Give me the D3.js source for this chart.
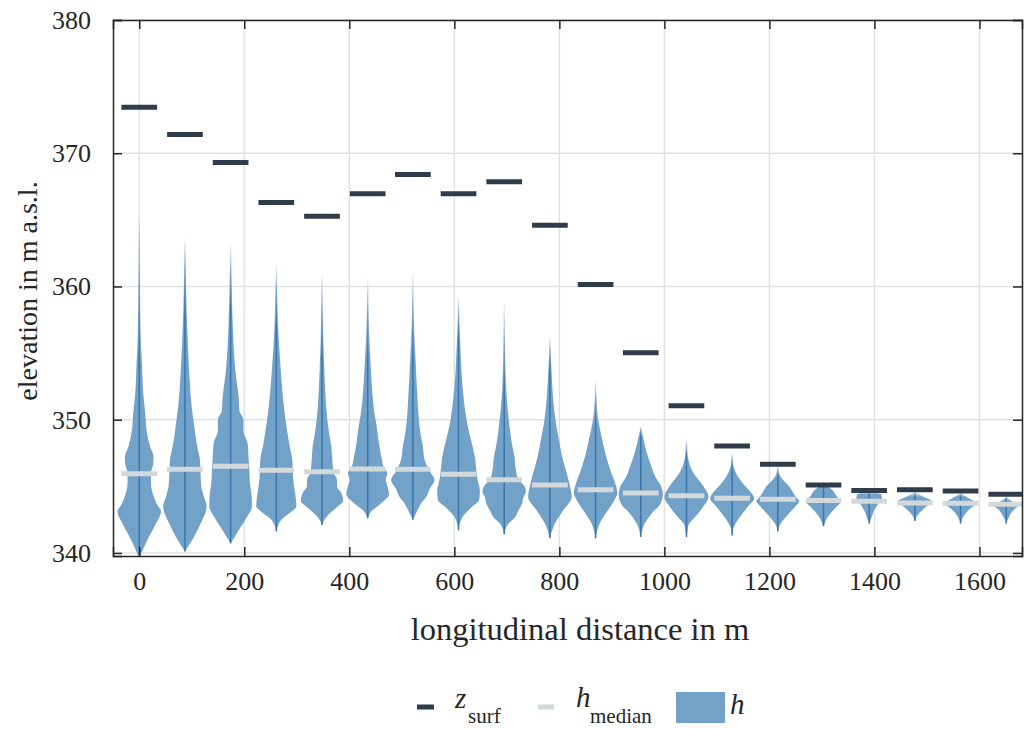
<!DOCTYPE html>
<html>
<head>
<meta charset="utf-8">
<script src="https://cdn.jsdelivr.net/npm/d3@7"></script>
<style>
  body { margin: 0; background: #fff; }
  svg { font-family: "Liberation Serif", "DejaVu Serif", serif; }
</style>
</head>
<body>
<svg id="chart" width="1024" height="729"></svg>
<script>
// cross-section positions along the channel (m)
var positions = [0, 87, 174, 261, 348, 435, 521, 608, 695, 782, 869, 955, 1042, 1129, 1216, 1303, 1390, 1477, 1564, 1651];

// surface elevation per cross-section
var zSurf = [373.45, 371.4, 369.3, 366.3, 365.27, 366.96, 368.4, 366.96, 367.86, 364.6,
             360.14, 355.03, 351.05, 348.03, 346.65, 345.1, 344.68, 344.75, 344.65, 344.4];

// median of h per cross-section
var hMedian = [345.95, 346.28, 346.5, 346.2, 346.1, 346.3, 346.28, 345.9, 345.5, 345.1,
               344.75, 344.5, 344.3, 344.1, 344.03, 343.93, 343.88, 343.75, 343.73, 343.65];

// kernel density of h: [elevation, density]
var hDensity = [
  [[339.6,0],[341.0,8.3],[342.2,16.7],[343.1,21.7],[343.7,17.3],[344.5,13.3],[345.2,11.7],[346.0,11.7],[346.7,14],[347.2,14.3],[348.0,10.7],[349.2,7.3],[350.5,6],[351.7,4.3],[354.2,2.7],[356.7,1.3],[360.5,0.7],[365.0,0]],
  [[340.1,0],[341.2,9],[342.2,15.7],[343.5,21.7],[344.2,19],[345.0,16.3],[345.7,15.7],[347.0,15],[347.7,13],[348.7,10.7],[349.7,9],[351.0,6.7],[353.0,4.7],[355.5,3],[358.0,1.7],[361.7,0.7],[363.6,0]],
  [[340.7,0],[341.7,8],[342.7,16.3],[343.5,21.3],[344.5,20.7],[345.2,19.3],[346.2,18.7],[347.0,18],[348.2,17],[349.2,12.7],[350.0,12.7],[350.7,8.7],[351.7,8],[352.5,6.7],[353.7,4.7],[355.5,3],[358.0,1.7],[361.2,0.7],[363.1,0]],
  [[341.6,0],[342.5,5],[343.0,13.3],[343.5,20],[344.2,19.3],[345.0,17.7],[345.7,16.7],[347.0,16],[348.0,13.3],[349.2,10.7],[350.5,8.3],[352.2,6],[354.2,4],[356.7,2],[359.2,1],[361.7,0]],
  [[342.1,0],[342.7,4.3],[343.4,14.3],[343.9,21],[344.5,19.3],[345.0,15],[345.5,15],[346.0,11.7],[347.0,10.3],[348.0,9.3],[348.7,7.7],[350.0,5.3],[352.0,3.3],[354.5,2],[357.0,1],[360.9,0]],
  [[342.6,0],[343.2,4.7],[343.7,13],[344.4,21.3],[345.0,19.7],[345.5,18],[346.0,19.7],[346.4,16.3],[347.2,13.7],[348.2,11.3],[349.5,9],[350.7,6.3],[352.0,4.7],[354.5,2.7],[357.0,1.3],[360.6,0]],
  [[342.5,0],[343.2,4.7],[343.7,8],[344.2,13.3],[344.8,16.7],[345.5,21.7],[346.0,18],[346.4,15],[347.0,11.7],[348.0,10],[349.0,7.5],[350.0,6],[352.0,4.3],[354.5,2.7],[357.0,1.3],[360.9,0]],
  [[341.7,0],[342.7,4],[343.5,14],[344.0,20.7],[344.7,21.3],[345.5,19],[346.0,18],[347.0,16.7],[348.0,14],[349.0,10.7],[350.0,8],[351.5,5.3],[353.2,3.3],[355.7,1.7],[357.5,0.7],[359.2,0]],
  [[341.4,0],[342.2,4.3],[342.7,11],[343.2,14.3],[343.7,17.7],[344.2,19.3],[344.6,21.7],[345.0,20.3],[345.5,14.3],[346.2,11.7],[347.2,10.3],[348.2,7.7],[349.7,5],[351.5,2.7],[354.7,1],[358.7,0]],
  [[341.1,0],[342.2,5],[343.2,13.3],[344.2,21.7],[345.0,20],[346.0,16.7],[347.2,12.3],[348.5,9],[349.7,6],[351.5,3.3],[353.5,1.7],[356.2,0]],
  [[341.1,0],[342.2,4],[343.2,12.3],[344.0,19],[344.5,21.7],[345.2,19.7],[346.0,15.7],[347.2,10.7],[348.5,6.7],[349.7,3.3],[351.0,1.3],[353.0,0]],
  [[341.2,0],[342.2,4],[343.0,11.3],[343.7,19.7],[344.4,22],[345.0,20.3],[345.7,14.7],[346.7,9.7],[347.7,5.3],[348.7,2.3],[349.5,0]],
  [[341.2,0],[341.6,1],[342.1,2],[342.7,8.7],[343.5,17],[344.2,22],[345.0,17],[346.0,7],[347.0,2],[348.5,0]],
  [[341.3,0],[342.0,2],[342.7,7.7],[343.5,16],[344.1,22],[344.5,19.3],[345.2,11],[346.2,2.7],[347.5,0]],
  [[341.6,0],[342.1,2],[342.7,8],[343.4,16.3],[343.9,21.3],[344.2,18],[345.0,11.3],[345.7,3],[346.5,0]],
  [[342.0,0],[342.7,4.3],[343.4,12],[343.9,17.7],[344.2,13.7],[344.7,9],[345.0,4],[345.3,0]],
  [[342.2,0],[342.7,2.5],[343.2,5],[343.7,9],[344.1,12.7],[344.4,12],[344.6,0]],
  [[342.4,0],[342.9,3.3],[343.4,10],[343.9,16.7],[344.2,9],[344.6,0]],
  [[342.2,0],[342.8,3.3],[343.4,10.7],[343.7,15.7],[344.2,6],[344.5,0]],
  [[342.2,0],[342.7,2.7],[343.3,8.3],[343.6,13.3],[343.9,5],[344.3,0]]
];

var xTicks = [0, 200, 400, 600, 800, 1000, 1200, 1400, 1600];
var yTicks = [340, 350, 360, 370, 380];

var fillColor = "#73a2c9",
    lineColor = "#3a77b0",
    zColor = "#2f3d4a",
    medColor = "#d3d8db",
    gridColor = "#e2e2e2",
    axisColor = "#262626";

var margin = {top: 20, right: 2, bottom: 173, left: 113},
    width = 1024 - margin.left - margin.right,
    height = 729 - margin.top - margin.bottom;

var x = d3.scaleLinear().domain([-50, 1681]).range([0, width]);
var y = d3.scaleLinear().domain([339.77, 380]).range([height, 0]);
// density -> half width in px
var w = d3.scaleLinear().domain([0, 22]).range([0, x(42) - x(0)]);
var barHalf = 34; // half length of the bars, in m

var svg = d3.select("#chart");
var defs = svg.append("defs");

defs.append("clipPath").attr("id", "plotclip")
  .append("rect").attr("width", width).attr("height", height);

var g = svg.append("g")
  .attr("transform", "translate(" + margin.left + "," + margin.top + ")");

// gridlines
g.append("g").selectAll("line").data(xTicks).join("line")
  .attr("x1", d => x(d)).attr("x2", d => x(d))
  .attr("y1", 0).attr("y2", height)
  .attr("stroke", gridColor).attr("stroke-width", 1.5);
g.append("g").selectAll("line").data(yTicks).join("line")
  .attr("x1", 0).attr("x2", width)
  .attr("y1", d => y(d)).attr("y2", d => y(d))
  .attr("stroke", gridColor).attr("stroke-width", 1.5);

var plot = g.append("g").attr("clip-path", "url(#plotclip)");

// fading gradients for the thin upper tails
hDensity.forEach(function(dens, i) {
  var top = y(dens[dens.length - 1][0]);
  // fade ends where the tail gets thicker
  var solid = dens.filter(p => p[1] >= 1.5);
  var end = y(solid[solid.length - 1][0]);
  [["fadeFill" + i, fillColor], ["fadeLine" + i, lineColor]].forEach(function(p) {
    var grad = defs.append("linearGradient")
      .attr("id", p[0])
      .attr("gradientUnits", "userSpaceOnUse")
      .attr("x1", 0).attr("x2", 0)
      .attr("y1", top).attr("y2", end);
    grad.append("stop").attr("offset", 0).attr("stop-color", p[1]).attr("stop-opacity", 0.05);
    grad.append("stop").attr("offset", 1).attr("stop-color", p[1]).attr("stop-opacity", 1);
  });
});

var area = d3.area()
  .curve(d3.curveMonotoneY)
  .y(d => y(d[0]));

// violins
plot.append("g").selectAll("path").data(hDensity).join("path")
  .attr("d", function(d, i) {
    var cx = x(positions[i]);
    return area.x0(p => cx - w(p[1])).x1(p => cx + w(p[1]))(d);
  })
  .attr("fill", (d, i) => "url(#fadeFill" + i + ")");

// centre lines
plot.append("g").selectAll("line").data(hDensity).join("line")
  .attr("x1", (d, i) => x(positions[i])).attr("x2", (d, i) => x(positions[i]))
  .attr("y1", d => y(d[0][0])).attr("y2", d => y(d[d.length - 1][0]))
  .attr("stroke", (d, i) => "url(#fadeLine" + i + ")")
  .attr("stroke-width", 1.6);

// medians
plot.append("g").selectAll("line").data(hMedian).join("line")
  .attr("x1", (d, i) => x(positions[i] - barHalf))
  .attr("x2", (d, i) => x(positions[i] + barHalf))
  .attr("y1", d => y(d)).attr("y2", d => y(d))
  .attr("stroke", medColor).attr("stroke-width", 5);

// surface elevation
plot.append("g").selectAll("line").data(zSurf).join("line")
  .attr("x1", (d, i) => x(positions[i] - barHalf))
  .attr("x2", (d, i) => x(positions[i] + barHalf))
  .attr("y1", d => y(d)).attr("y2", d => y(d))
  .attr("stroke", zColor).attr("stroke-width", 5);

// axes, ticks pointing inwards on all sides
g.append("g")
  .attr("transform", "translate(0," + height + ")")
  .call(d3.axisBottom(x).tickValues(xTicks).tickSize(-9).tickPadding(16).tickFormat(d3.format("d")));
g.append("g")
  .call(d3.axisTop(x).tickValues(xTicks).tickSize(-9).tickFormat(""));
g.append("g")
  .call(d3.axisLeft(y).tickValues(yTicks).tickSize(-9).tickPadding(22));
g.append("g")
  .attr("transform", "translate(" + width + ",0)")
  .call(d3.axisRight(y).tickValues(yTicks).tickSize(-9).tickFormat(""));

g.selectAll(".domain").attr("stroke", axisColor).attr("stroke-width", 1.5);
g.selectAll(".tick line").attr("stroke", axisColor).attr("stroke-width", 1.5);
g.selectAll(".tick text")
  .attr("fill", "#262626")
  .style("font-family", "'Liberation Serif', serif")
  .style("font-size", "26px");

// axis titles
svg.append("text")
  .attr("x", 580).attr("y", 640)
  .attr("text-anchor", "middle")
  .attr("fill", "#262626")
  .style("font-size", "32.5px")
  .text("longitudinal distance in m");

svg.append("text")
  .attr("transform", "translate(37,291) rotate(-90)")
  .attr("text-anchor", "middle")
  .attr("fill", "#262626")
  .style("font-size", "28px")
  .text("elevation in m a.s.l.");

// legend
var legend = svg.append("g").attr("fill", "#262626");

legend.append("line")
  .attr("x1", 417).attr("x2", 434).attr("y1", 707).attr("y2", 707)
  .attr("stroke", zColor).attr("stroke-width", 5);
var t1 = legend.append("text").attr("x", 455).attr("y", 708);
t1.append("tspan").style("font-style", "italic").style("font-size", "29px").text("z");
t1.append("tspan").attr("x", 468).attr("y", 723).style("font-size", "21px").text("surf");

legend.append("line")
  .attr("x1", 538).attr("x2", 554).attr("y1", 707).attr("y2", 707)
  .attr("stroke", medColor).attr("stroke-width", 5);
var t2 = legend.append("text").attr("x", 576).attr("y", 707);
t2.append("tspan").style("font-style", "italic").style("font-size", "29px").text("h");
t2.append("tspan").attr("x", 590).attr("y", 723).style("font-size", "21px").text("median");

legend.append("rect")
  .attr("x", 676).attr("y", 692).attr("width", 49).attr("height", 31)
  .attr("fill", fillColor);
legend.append("text").attr("x", 730).attr("y", 714)
  .style("font-style", "italic").style("font-size", "29px").text("h");
</script>
</body>
</html>
